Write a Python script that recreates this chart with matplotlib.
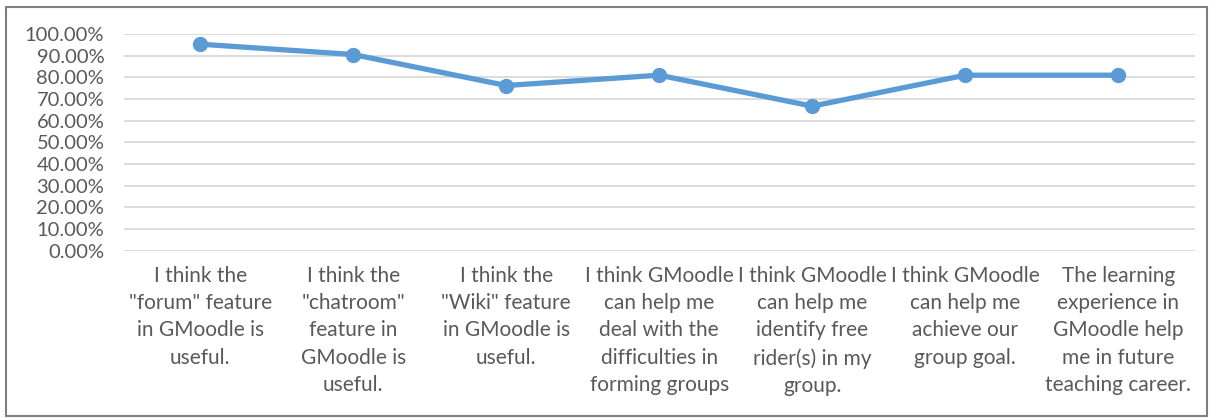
import matplotlib.pyplot as plt
from matplotlib.patches import Rectangle
from matplotlib.ticker import PercentFormatter

categories = [
    'I think the\n"forum" feature\nin GMoodle is\nuseful.',
    'I think the\n"chatroom"\nfeature in\nGMoodle is\nuseful.',
    'I think the\n"Wiki" feature\nin GMoodle is\nuseful.',
    'I think GMoodle\ncan help me\ndeal with the\ndifficulties in\nforming groups',
    'I think GMoodle\ncan help me\nidentify free\nrider(s) in my\ngroup.',
    'I think GMoodle\ncan help me\nachieve our\ngroup goal.',
    'The learning\nexperience in\nGMoodle help\nme in future\nteaching career.',
]
values = [0.9524, 0.9048, 0.7619, 0.8095, 0.6667, 0.8095, 0.8095]
yticks = [i / 10 for i in range(11)]

plt.rcParams['font.family'] = ['Lato', 'DejaVu Sans']
grey = '#595959'

fig = plt.figure(figsize=(12.13, 4.18), dpi=100)
ax = fig.add_axes([0.102, 0.400, 0.883, 0.519])

x = list(range(len(values)))
ax.plot(x, values, color='#5B9BD5', lw=3.8, marker='o', markersize=10,
        solid_capstyle='round', zorder=3)

ax.set_xlim(-0.5, len(values) - 0.5)
ax.set_ylim(0, 1.0)
ax.set_yticks(yticks)
ax.yaxis.set_major_formatter(PercentFormatter(1.0, decimals=2))
ax.set_xticks(x)
ax.set_xticklabels(categories, linespacing=1.45)

ax.grid(axis='y', color='#D9D9D9', lw=1.3)
ax.set_axisbelow(True)
for s in ax.spines.values():
    s.set_visible(False)
ax.tick_params(axis='both', length=0, colors=grey)
ax.tick_params(axis='x', pad=11, labelsize=15)
ax.tick_params(axis='y', pad=14, labelsize=14.5)

# frame around the chart
fig.patches.append(Rectangle((0.005, 0.005), 0.99, 0.978, transform=fig.transFigure,
                             fill=False, edgecolor='#7F7F7F', lw=1.5))

fig.savefig('out.png', dpi=100)
